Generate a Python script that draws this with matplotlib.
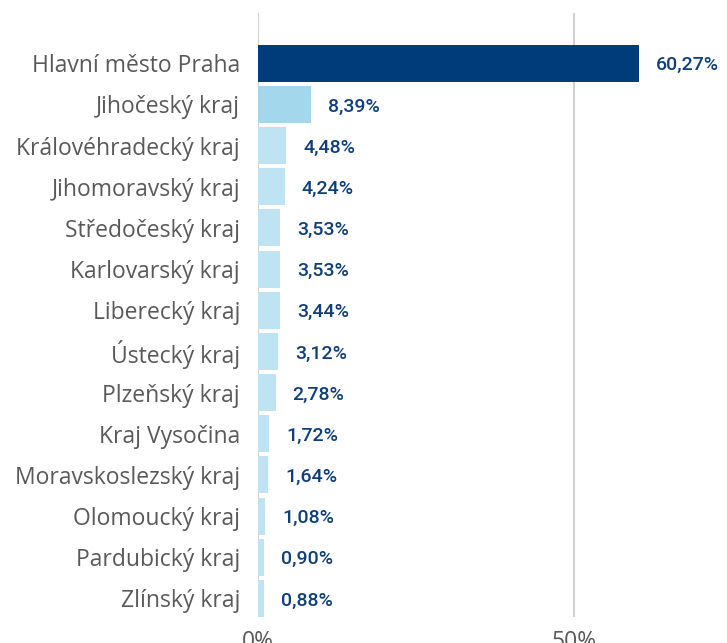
import matplotlib.pyplot as plt
import numpy as np

regions = ['Hlavní město Praha', 'Jihočeský kraj', 'Královéhradecký kraj', 'Jihomoravský kraj',
           'Středočeský kraj', 'Karlovarský kraj', 'Liberecký kraj', 'Ústecký kraj',
           'Plzeňský kraj', 'Kraj Vysočina', 'Moravskoslezský kraj', 'Olomoucký kraj',
           'Pardubický kraj', 'Zlínský kraj']
shares = [60.27, 8.39, 4.48, 4.24, 3.53, 3.53, 3.44, 3.12, 2.78, 1.72, 1.64, 1.08, 0.90, 0.88]

colors = ['#003c7a', '#a3d7eb'] + ['#bee4f3'] * (len(shares) - 2)

fig = plt.figure(figsize=(7.27, 6.43), dpi=100)
ax = fig.add_axes([258 / 727, 1 - 617 / 643, 1 - 258 / 727, (617 - 13) / 643])

y = np.arange(len(regions))
ax.barh(y, shares, height=0.9, color=colors, zorder=2)

for yi, v in zip(y, shares):
    ax.text(v + 2.7, yi + 0.05, f'{v:.2f}%'.replace('.', ','), va='center', ha='left',
            fontsize=14, color='#0f3f7a', family='Roboto', fontweight='medium')

ax.set_ylim(13.45, -1.22)
ax.set_xlim(0, 74.2)
ax.set_yticks(y)
ax.set_yticklabels(regions, family='Open Sans', fontsize=16.5, color='#595959')
ax.set_xticks([0, 50])
ax.set_xticklabels(['0%', '50%'], family='Open Sans', fontsize=16.5, color='#595959')
ax.tick_params(axis='y', length=0, pad=13)
ax.tick_params(axis='x', length=0, pad=9)
ax.grid(axis='x', color='#d0d0d0', linewidth=1.5, zorder=0)
for s in ax.spines.values():
    s.set_visible(False)

fig.savefig('out.png', dpi=100)
